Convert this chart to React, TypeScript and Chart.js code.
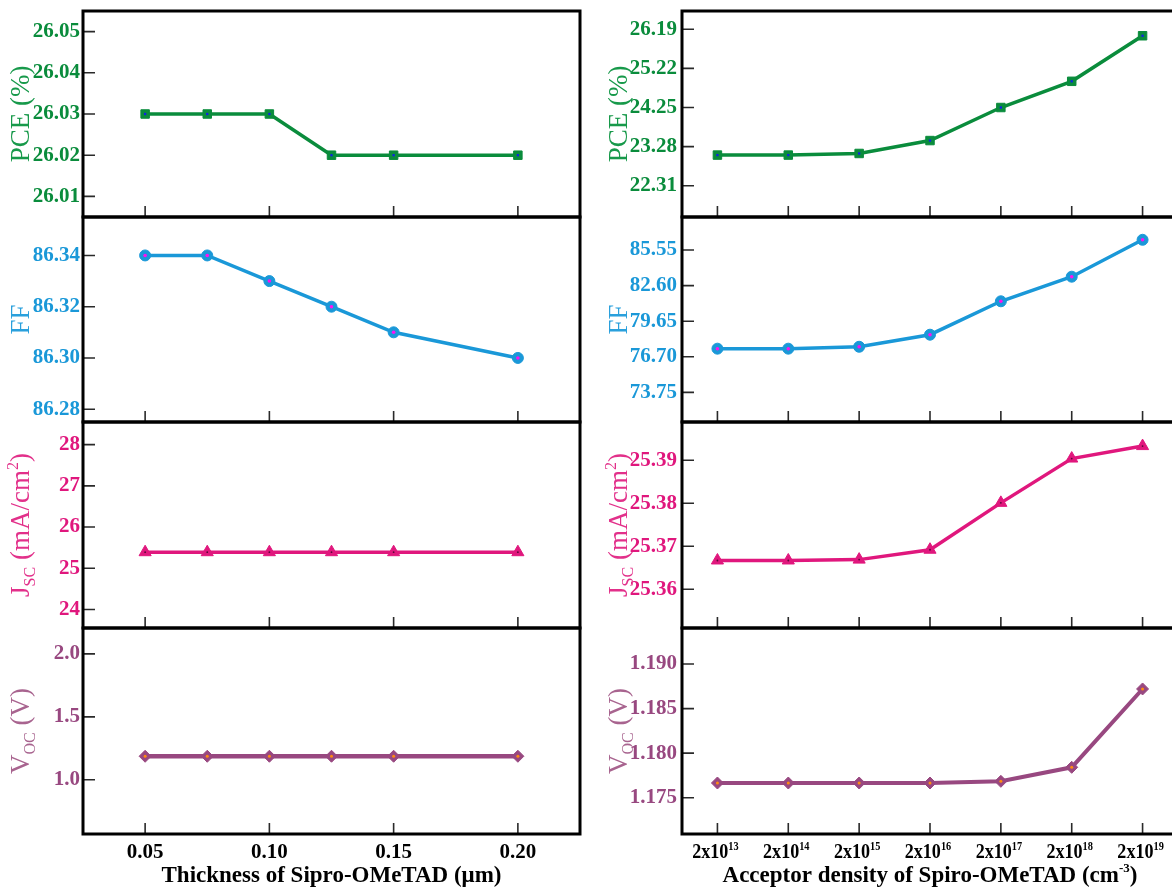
import React, { useEffect, useRef } from 'react';
import { Chart, registerables } from 'chart.js';

Chart.register(...registerables);

// ---------------- data ----------------
const thickness = [0.05, 0.075, 0.1, 0.125, 0.15, 0.2];
const thicknessTicks = [0.05, 0.1, 0.15, 0.2];
const pceThickness = [26.03, 26.03, 26.03, 26.02, 26.02, 26.02];
const ffThickness = [86.34, 86.34, 86.33, 86.32, 86.31, 86.3];
const jscThickness = [25.39, 25.39, 25.39, 25.39, 25.39, 25.39];
const vocThickness = [1.187, 1.187, 1.187, 1.187, 1.187, 1.187];

const acceptorExponents = ['13', '14', '15', '16', '17', '18', '19'];
const pceAcceptor = [23.07, 23.07, 23.11, 23.43, 24.25, 24.9, 26.03];
const ffAcceptor = [77.37, 77.37, 77.53, 78.53, 81.3, 83.34, 86.4];
const jscAcceptor = [25.3667, 25.3667, 25.3669, 25.3692, 25.3801, 25.3904, 25.3933];
const vocAcceptor = [1.17665, 1.17665, 1.17665, 1.17665, 1.17684, 1.17841, 1.1872];

const pceThicknessTicks = [26.01, 26.02, 26.03, 26.04, 26.05];
const ffThicknessTicks = [86.28, 86.3, 86.32, 86.34];
const jscThicknessTicks = [24, 25, 26, 27, 28];
const vocThicknessTicks = [1.0, 1.5, 2.0];
const pceAcceptorTicks = [22.31, 23.28, 24.25, 25.22, 26.19];
const ffAcceptorTicks = [73.75, 76.7, 79.65, 82.6, 85.55];
const jscAcceptorTicks = [25.36, 25.37, 25.38, 25.39];
const vocAcceptorTicks = [1.175, 1.18, 1.185, 1.19];

// ---------------- styling ----------------
const FONT = '"Liberation Serif", "Times New Roman", serif';
Chart.defaults.font.family = FONT;

type Seg = { t: string; k?: 'sub' | 'sup' };

const GREEN = '#0a8c3c';
const BLUE = '#1a98d8';
const PINK = '#e0177d';
const PURPLE = '#984880';

function drawRich(
  ctx: CanvasRenderingContext2D,
  segs: Seg[],
  x: number,
  y: number,
  size: number,
  weight: string,
  color: string,
  rotate: boolean,
  sx = 1
) {
  ctx.save();
  ctx.translate(x, y);
  if (rotate) ctx.rotate(-Math.PI / 2);
  ctx.scale(sx, 1);
  const fontFor = (k?: string) => `${weight} ${k ? Math.round(size * 0.58) : size}px ${FONT}`;
  let total = 0;
  const widths = segs.map((s) => {
    ctx.font = fontFor(s.k);
    const w = ctx.measureText(s.t).width;
    total += w;
    return w;
  });
  let cx = -total / 2;
  ctx.fillStyle = color;
  ctx.textBaseline = 'alphabetic';
  ctx.textAlign = 'left';
  const base = size * 0.33;
  segs.forEach((s, i) => {
    ctx.font = fontFor(s.k);
    const dy = s.k === 'sub' ? size * 0.22 : s.k === 'sup' ? -size * 0.4 : 0;
    ctx.fillText(s.t, cx, base + dy);
    cx += widths[i];
  });
  ctx.restore();
}

const panelPlugin = {
  id: 'panel',
  afterDraw(chart: any) {
    const o = chart.options.plugins.panel;
    if (!o) return;
    const ctx: CanvasRenderingContext2D = chart.ctx;
    const a = chart.chartArea;
    const xs = chart.scales.x;
    const ys = chart.scales.y;
    ctx.save();
    ctx.strokeStyle = '#2a2a2a';
    ctx.lineWidth = 1.6;
    ctx.beginPath();
    o.xTickValues.forEach((v: number) => {
      const px = xs.getPixelForValue(v);
      ctx.moveTo(px, a.bottom);
      ctx.lineTo(px, a.bottom - 11);
    });
    ys.ticks.forEach((t: any) => {
      const py = ys.getPixelForValue(t.value);
      ctx.moveTo(a.left, py);
      ctx.lineTo(a.left + 12, py);
    });
    ctx.stroke();
    ctx.strokeStyle = '#000';
    ctx.lineWidth = 3;
    ctx.strokeRect(a.left, a.top, a.right - a.left, a.bottom - a.top);
    drawRich(ctx, o.yTitle, o.yTitleX, (a.top + a.bottom) / 2, 27, 'normal', o.titleColor, true);
    if (o.xLabels) {
      o.xLabels.forEach((l: { v: number; segs: Seg[] }) =>
        drawRich(ctx, l.segs, xs.getPixelForValue(l.v) + o.xLabelShift, a.bottom + 17, 21, 'bold', '#000', false, o.xLabelScale)
      );
      drawRich(ctx, o.xTitle, (a.left + a.right) / 2, a.bottom + 40, 23, 'bold', '#000', false);
    }
    ctx.restore();
  },
};

// ---------------- layout ----------------
const COLS = {
  left: { plotLeft: 83, plotRight: 580, axisW: 83, tickPad: 3, titleX: 20 },
  right: { plotLeft: 682, plotRight: 1178, axisW: 100, tickPad: 5, titleX: 618 },
};
const ROWS = [
  [11, 217],
  [217, 422],
  [422, 628],
  [628, 834],
];
const PAD_T = 30;
const PAD_R = 6;

type Series = {
  values: number[];
  ticks: number[];
  min: number;
  max: number;
  dec: number;
  color: string;
  titleColor: string;
  title: Seg[];
  style: string;
  radius: number;
  dotColor: string;
  dotStyle: string;
  dotRadius: number;
  lineWidth: number;
};

function buildPanel(col: 'left' | 'right', row: number, s: Series) {
  const c = COLS[col];
  const [rt, rb] = ROWS[row];
  const bottomRow = row === 3;
  const padB = bottomRow ? 62 : 30;
  const pos = {
    left: c.plotLeft - c.axisW,
    top: rt - PAD_T,
    width: c.axisW + (c.plotRight - c.plotLeft) + PAD_R,
    height: rb - rt + PAD_T + padB,
  };
  const isLeft = col === 'left';
  const data = isLeft ? thickness.map((x, i) => ({ x, y: s.values[i] })) : s.values.slice();
  const xScale = isLeft
    ? { type: 'linear', min: 0.025, max: 0.225, display: false }
    : { type: 'category', offset: true, display: false };
  const xTickValues = isLeft ? thicknessTicks : acceptorExponents.map((_, i) => i);
  const xLabels = bottomRow
    ? isLeft
      ? thicknessTicks.map((v) => ({ v, segs: [{ t: v.toFixed(2) }] }))
      : acceptorExponents.map((e, i) => ({ v: i, segs: [{ t: '2x10' }, { t: e, k: 'sup' }] }))
    : null;
  const xTitle: Seg[] = isLeft
    ? [{ t: 'Thickness of Sipro-OMeTAD (\u03bcm)' }]
    : [{ t: 'Acceptor density of Spiro-OMeTAD (cm' }, { t: '-3', k: 'sup' }, { t: ')' }];
  const config: any = {
    type: 'line',
    data: {
      labels: isLeft ? undefined : acceptorExponents,
      datasets: [
        {
          data,
          showLine: false,
          pointStyle: s.dotStyle,
          pointRadius: s.dotRadius,
          pointBackgroundColor: s.dotColor,
          pointBorderColor: s.dotColor,
          pointBorderWidth: 0,
        },
        {
          data,
          borderColor: s.color,
          borderWidth: s.lineWidth,
          tension: 0,
          pointStyle: s.style,
          pointRadius: s.radius,
          pointBackgroundColor: s.color,
          pointBorderColor: s.color,
          pointBorderWidth: 1,
        },
      ],
    },
    options: {
      animation: false,
      responsive: true,
      maintainAspectRatio: false,
      events: [],
      layout: { autoPadding: false, padding: { top: PAD_T, bottom: padB, left: 0, right: PAD_R } },
      plugins: {
        legend: { display: false },
        tooltip: { enabled: false },
        panel: {
          xTickValues,
          yTitle: s.title,
          yTitleX: c.titleX - pos.left,
          titleColor: s.titleColor,
          xLabels,
          xLabelScale: isLeft ? 1 : 0.86,
          xLabelShift: isLeft ? 0 : -2,
          xTitle,
        },
      },
      scales: {
        x: xScale,
        y: {
          type: 'linear',
          min: s.min,
          max: s.max,
          afterBuildTicks: (sc: any) => {
            sc.ticks = s.ticks.map((v) => ({ value: v }));
          },
          afterFit: (sc: any) => {
            sc.width = c.axisW;
          },
          grid: { display: false, drawTicks: false },
          border: { display: false },
          ticks: {
            autoSkip: false,
            color: s.color,
            padding: c.tickPad,
            font: { family: FONT, size: 21, weight: 'bold' },
            callback: (v: any) => Number(v).toFixed(s.dec),
          },
        },
      },
    },
    plugins: [panelPlugin],
  };
  return { pos, config, key: `${col}-${row}` };
}

const pceTitle: Seg[] = [{ t: 'PCE (%)' }];
const ffTitle: Seg[] = [{ t: 'FF' }];
const jscTitle: Seg[] = [{ t: 'J' }, { t: 'SC', k: 'sub' }, { t: ' (mA/cm' }, { t: '2', k: 'sup' }, { t: ')' }];
const vocTitle: Seg[] = [{ t: 'V' }, { t: 'OC', k: 'sub' }, { t: ' (V)' }];

const pceStyle = { color: GREEN, titleColor: '#17994a', title: pceTitle, style: 'rect', radius: 6, dotColor: '#1020e8', dotStyle: 'rect', dotRadius: 1.6, lineWidth: 3.5 };
const ffStyle = { color: BLUE, titleColor: '#2aa0dc', title: ffTitle, style: 'circle', radius: 5.5, dotColor: '#ff10f0', dotStyle: 'circle', dotRadius: 1.8, lineWidth: 3.5 };
const jscStyle = { color: PINK, titleColor: '#e2308a', title: jscTitle, style: 'triangle', radius: 7, dotColor: '#5a0838', dotStyle: 'circle', dotRadius: 0.9, lineWidth: 3.5 };
const vocStyle = { color: PURPLE, titleColor: '#a8648f', title: vocTitle, style: 'rectRot', radius: 6, dotColor: '#ff8c10', dotStyle: 'circle', dotRadius: 1.5, lineWidth: 4.5 };

const PANELS = [
  buildPanel('left', 0, { ...pceStyle, values: pceThickness, ticks: pceThicknessTicks, min: 26.005, max: 26.055, dec: 2 }),
  buildPanel('left', 1, { ...ffStyle, values: ffThickness, ticks: ffThicknessTicks, min: 86.275, max: 86.355, dec: 2 }),
  buildPanel('left', 2, { ...jscStyle, values: jscThickness, ticks: jscThicknessTicks, min: 23.55, max: 28.55, dec: 0 }),
  buildPanel('left', 3, { ...vocStyle, values: vocThickness, ticks: vocThicknessTicks, min: 0.57, max: 2.205, dec: 1 }),
  buildPanel('right', 0, { ...pceStyle, values: pceAcceptor, ticks: pceAcceptorTicks, min: 21.534, max: 26.644, dec: 2 }),
  buildPanel('right', 1, { ...ffStyle, values: ffAcceptor, ticks: ffAcceptorTicks, min: 71.29, max: 88.29, dec: 2 }),
  buildPanel('right', 2, { ...jscStyle, values: jscAcceptor, ticks: jscAcceptorTicks, min: 25.351, max: 25.3989, dec: 2 }),
  buildPanel('right', 3, { ...vocStyle, values: vocAcceptor, ticks: vocAcceptorTicks, min: 1.17093, max: 1.19404, dec: 3, lineWidth: 4 }),
];

function Panel({ pos, config }: { pos: any; config: any }) {
  const ref = useRef<HTMLCanvasElement | null>(null);
  useEffect(() => {
    if (!ref.current) return;
    const chart = new Chart(ref.current, config);
    return () => chart.destroy();
  }, [config]);
  return (
    <div style={{ position: 'absolute', left: pos.left, top: pos.top, width: pos.width, height: pos.height }}>
      <canvas ref={ref} />
    </div>
  );
}

export default function App() {
  return (
    <div
      style={{
        position: 'fixed',
        left: 0,
        top: 0,
        width: 1172,
        height: 894,
        overflow: 'hidden',
        background: '#fff',
      }}
    >
      {PANELS.map((p) => (
        <Panel key={p.key} pos={p.pos} config={p.config} />
      ))}
    </div>
  );
}
